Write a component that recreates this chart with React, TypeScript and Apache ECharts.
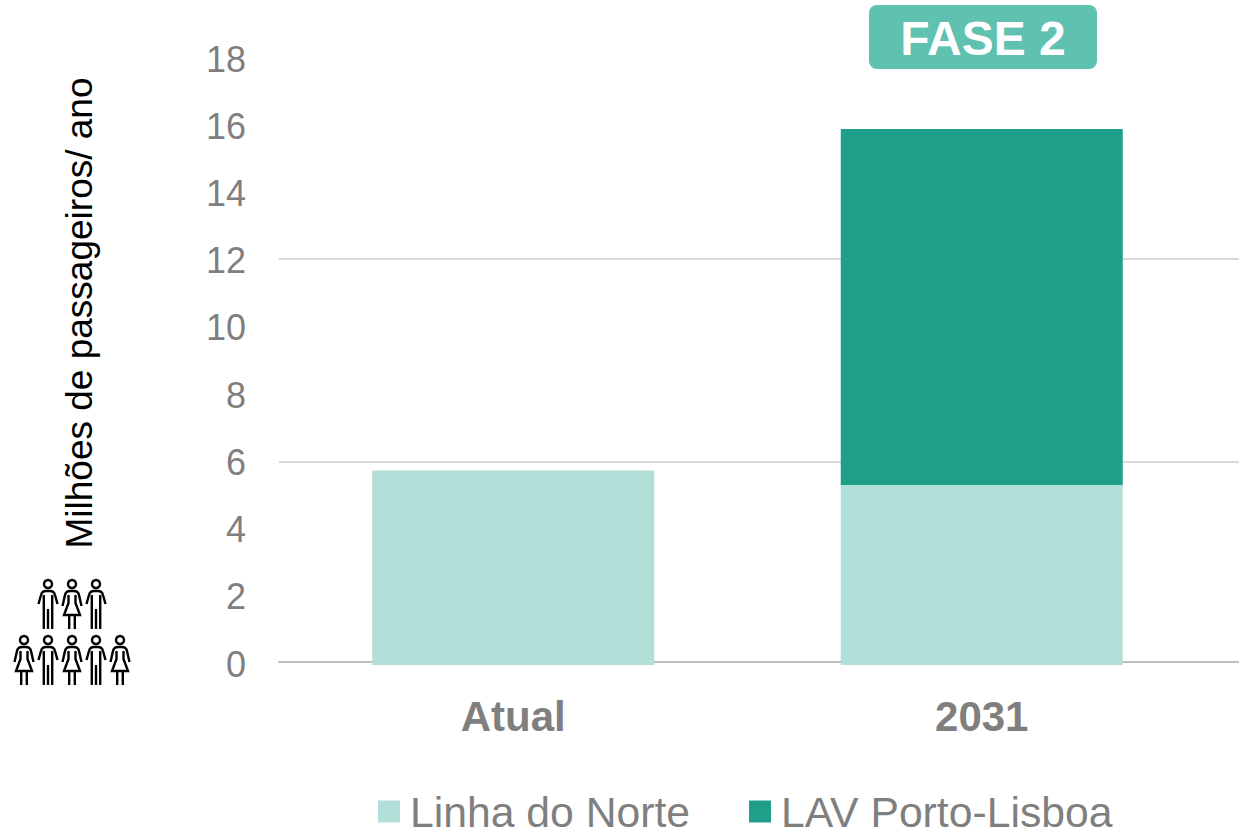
import React, { useEffect, useRef } from "react";
import * as echarts from "echarts";

const categories = ["Atual", "2031"];
const linhaDoNorte = [5.75, 5.32];
const lavPortoLisboa = [null, 10.52];
const legendNames = ["Linha do Norte", "LAV Porto-Lisboa"];
const axisTitle = "Milhões de passageiros/ ano";
const badgeText = "FASE 2";
const upperRow = ["man", "woman", "man"];
const lowerRow = ["woman", "man", "woman", "man", "woman"];

const head = "M14 5 A4 4 0 1 1 6 5 A4 4 0 1 1 14 5 Z ";
const manPath =
  head +
  "M0.5 25 L3 16 Q4 12 8 12 L12 12 Q16 12 17 16 L19.5 25 " +
  "M5.8 16 L5.8 50 M14.2 16 L14.2 50 M10 30 L10 50";
const womanPath =
  head +
  "M0.5 27 L3 16 Q4 12 8 12 L12 12 Q16 12 17 16 L19.5 27 " +
  "M6.5 16 L6.5 24 L2 36 L18 36 L13.5 24 L13.5 16 " +
  "M7.2 36 L7.2 50 M12.8 36 L12.8 50";

echarts.graphic.registerShape("man", echarts.graphic.extendPath(manPath as any, {}) as any);
echarts.graphic.registerShape("woman", echarts.graphic.extendPath(womanPath as any, {}) as any);

const FONT = '"Liberation Sans", Arial, sans-serif';
const GREY = "#7f7f7f";

function person(type: string, cx: number, top: number) {
  return {
    type,
    x: cx - 10,
    y: top,
    style: { fill: "none", stroke: "#000", lineWidth: 2.4 },
  };
}

export default function App() {
  const ref = useRef<HTMLDivElement>(null);
  useEffect(() => {
    const chart = echarts.init(ref.current!, undefined, { renderer: "svg" });
    chart.setOption({
      animation: false,
      backgroundColor: "#fff",
      grid: [
        { left: 279, width: 937, top: 56, height: 609 },
        { left: 279, right: 0, top: 56, height: 609 },
        { left: 279, right: 0, top: 59, height: 605 },
      ],
      xAxis: [
        {
          type: "category",
          gridIndex: 0,
          data: categories,
          axisLine: { show: false },
          axisTick: { show: false },
          axisLabel: { color: GREY, fontFamily: FONT, fontSize: 42, fontWeight: "bold", margin: 30 },
        },
        {
          type: "category",
          gridIndex: 1,
          data: [""],
          offset: -3,
          axisLine: { show: true, onZero: false, lineStyle: { color: "#bfbfbf", width: 2 } },
          axisTick: { show: false },
          axisLabel: { show: false },
        },
        { type: "category", gridIndex: 2, data: [""], show: false },
      ],
      yAxis: [
        { type: "value", gridIndex: 0, min: 0, max: 18, interval: 2, show: false },
        {
          type: "value",
          gridIndex: 1,
          min: 0,
          max: 18,
          interval: 6,
          axisLine: { show: false },
          axisTick: { show: false },
          axisLabel: { show: false },
          splitLine: {
            show: true,
            showMinLine: false,
            showMaxLine: false,
            lineStyle: { color: "#d9d9d9", width: 2 },
          },
        },
        {
          type: "value",
          gridIndex: 2,
          min: 0,
          max: 18,
          interval: 2,
          axisLine: { show: false },
          axisTick: { show: false },
          splitLine: { show: false },
          axisLabel: { color: GREY, fontFamily: FONT, fontSize: 36, margin: 33 },
        },
      ],
      legend: {
        data: legendNames,
        left: 373,
        top: 785,
        itemWidth: 22,
        itemHeight: 22,
        itemGap: 59,
        icon: "rect",
        textStyle: { color: GREY, fontFamily: FONT, fontSize: 42.7, lineHeight: 34, padding: [0, 0, 0, 5] },
      },
      series: [
        {
          name: legendNames[0],
          type: "bar",
          stack: "total",
          xAxisIndex: 0,
          yAxisIndex: 0,
          barWidth: 282,
          data: linhaDoNorte,
          itemStyle: { color: "#b2dfd8" },
        },
        {
          name: legendNames[1],
          type: "bar",
          stack: "total",
          xAxisIndex: 0,
          yAxisIndex: 0,
          barWidth: 282,
          data: lavPortoLisboa,
          itemStyle: { color: "#1f9e8a" },
        },
      ],
      graphic: [
        {
          type: "rect",
          shape: { x: 869, y: 5, width: 228, height: 64, r: 8 },
          style: { fill: "#5fc1b0" },
        },
        {
          type: "text",
          x: 983,
          y: 38,
          style: {
            text: badgeText,
            fill: "#fff",
            font: `bold 48px ${FONT}`,
            textAlign: "center",
            textVerticalAlign: "middle",
          },
        },
        {
          type: "text",
          x: 79,
          y: 313,
          rotation: Math.PI / 2,
          style: {
            text: axisTitle,
            fill: "#000",
            font: `37px ${FONT}`,
            textAlign: "center",
            textVerticalAlign: "middle",
          },
        },
        ...upperRow.map((t, i) => person(t, 48 + i * 24, 579)),
        ...lowerRow.map((t, i) => person(t, 24 + i * 24, 635)),
      ],
    });
    return () => chart.dispose();
  }, []);
  return <div ref={ref} style={{ position: "absolute", left: 0, top: 0, width: 1239, height: 829 }} />;
}
